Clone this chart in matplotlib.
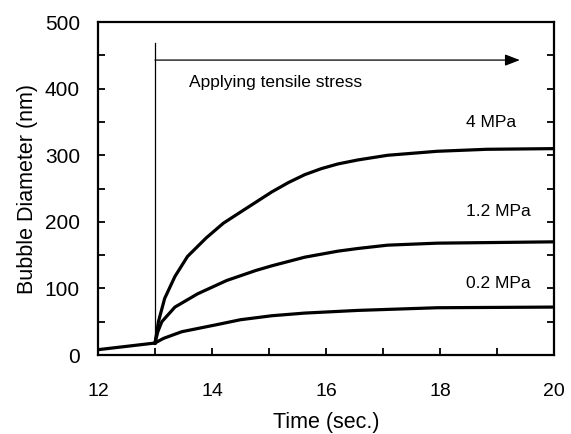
import numpy as np
import matplotlib
matplotlib.use('Agg')
import matplotlib.pyplot as plt
from matplotlib.ticker import MultipleLocator

plt.rcParams['font.family'] = ['Liberation Sans', 'DejaVu Sans']

# before stress is applied
t_pre = [12.0, 13.0]
d_pre = [8, 18]

# 4 MPa
t_4 = [13.0, 13.03, 13.06, 13.17, 13.35, 13.57, 13.9, 14.2, 14.47, 14.76,
       15.05, 15.34, 15.63, 15.92, 16.21, 16.56, 17.08, 17.95, 18.82, 20.0]
d_4 = [18, 33, 50, 85, 118, 148, 176, 198, 213, 229,
       245, 259, 271, 280, 287, 293, 300, 306, 309, 310]

# 1.2 MPa
t_12 = [13.0, 13.05, 13.12, 13.35, 13.75, 14.26, 14.77, 15.05, 15.63, 16.21,
        16.56, 17.08, 17.95, 20.0]
d_12 = [18, 35, 50, 72, 92, 112, 127, 134, 147, 156, 160, 165, 168, 170]

# 0.2 MPa
t_02 = [13.0, 13.15, 13.47, 14.05, 14.5, 15.05, 15.63, 16.56, 17.95, 20.0]
d_02 = [18, 25, 35, 45, 53, 59, 63, 67, 71, 72]

labels = ["4 MPa", "1.2 MPa", "0.2 MPa"]
label_y = [349, 216, 108]


def main():
    fig = plt.figure(figsize=(5.71, 4.34), dpi=100)
    ax = fig.add_axes([0.1716, 0.182, 0.7986, 0.767])

    lw = 2.3
    ax.plot(t_pre, d_pre, c='k', lw=lw, solid_capstyle='butt')
    for tt, dd in ((t_4, d_4), (t_12, d_12), (t_02, d_02)):
        ax.plot(tt, dd, c='k', lw=lw, solid_joinstyle='round')

    # stress onset marker and arrow
    ax.plot([13, 13], [18, 468], c='k', lw=0.9)
    ax.annotate('', xy=(19.4, 443), xytext=(13, 443),
                arrowprops=dict(arrowstyle='-|>,head_length=0.9,head_width=0.35',
                                color='k', lw=0.9, shrinkA=0, shrinkB=0))
    ax.text(13.6, 410, "Applying tensile stress", fontsize=12.5,
            va='center', ha='left')

    for lab, yy in zip(labels, label_y):
        ax.text(18.45, yy, lab, fontsize=12.5, va='center', ha='left')

    ax.set_xlim(12, 20)
    ax.set_ylim(0, 500)
    ax.xaxis.set_major_locator(MultipleLocator(2))
    ax.xaxis.set_minor_locator(MultipleLocator(1))
    ax.yaxis.set_major_locator(MultipleLocator(100))
    ax.yaxis.set_minor_locator(MultipleLocator(50))
    ax.tick_params(which='both', direction='in', top=False, right=True,
                   width=1.3, length=5)
    ax.tick_params(axis='x', which='major', labelsize=14, pad=20)
    ax.tick_params(axis='y', which='major', labelsize=15, pad=13)
    for sp in ax.spines.values():
        sp.set_linewidth(1.6)

    ax.set_xlabel("Time (sec.)", fontsize=15.5, labelpad=9)
    ax.set_ylabel("Bubble Diameter (nm)", fontsize=15.5, labelpad=5)

    fig.savefig("out.png", dpi=100)
    plt.close()


if __name__ == '__main__':
    main()
